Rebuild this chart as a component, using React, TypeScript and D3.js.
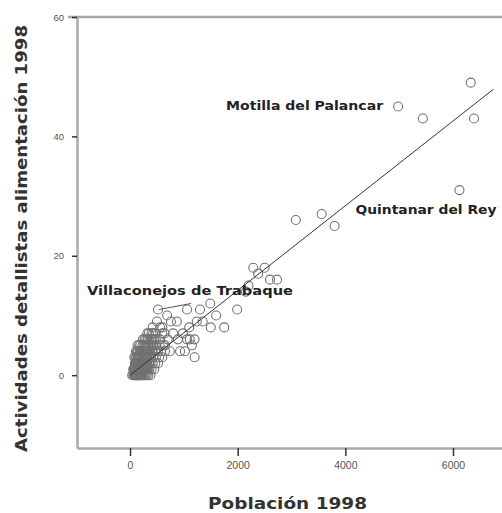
import React, { useRef, useEffect } from "react";
import * as d3 from "d3";

// [población, actividades]
const clusterPoints: [number, number][] = [
  [40, 0], [60, 0], [80, 0], [90, 0], [100, 0], [110, 0], [120, 0], [130, 0], [140, 0], [150, 0],
  [160, 0], [170, 0], [180, 0], [190, 0], [200, 0], [210, 0], [220, 0], [230, 0], [250, 0], [270, 0],
  [290, 0], [310, 0], [340, 0], [380, 0],
  [60, 1], [70, 1], [80, 1], [90, 1], [100, 1], [110, 1], [120, 1], [130, 1], [140, 1], [150, 1],
  [160, 1], [170, 1], [180, 1], [190, 1], [200, 1], [210, 1], [220, 1], [230, 1], [240, 1], [250, 1],
  [260, 1], [280, 1], [300, 1], [320, 1], [330, 1], [360, 1], [400, 1], [450, 1],
  [90, 2], [100, 2], [110, 2], [120, 2], [130, 2], [140, 2], [150, 2], [160, 2], [170, 2], [180, 2],
  [190, 2], [200, 2], [210, 2], [220, 2], [230, 2], [240, 2], [250, 2], [260, 2], [270, 2], [280, 2],
  [300, 2], [320, 2], [350, 2], [380, 2], [420, 2], [470, 2], [520, 2],
  [80, 3], [100, 3], [120, 3], [140, 3], [150, 3], [170, 3], [180, 3], [200, 3], [210, 3], [230, 3],
  [240, 3], [260, 3], [270, 3], [290, 3], [300, 3], [310, 3], [320, 3], [350, 3], [390, 3], [430, 3],
  [480, 3], [540, 3], [600, 3],
  [110, 4], [130, 4], [150, 4], [180, 4], [200, 4], [220, 4], [240, 4], [260, 4], [280, 4], [300, 4],
  [320, 4], [330, 4], [340, 4], [360, 4], [380, 4], [420, 4], [470, 4], [520, 4], [580, 4], [650, 4],
  [140, 5], [170, 5], [190, 5], [230, 5], [250, 5], [280, 5], [300, 5], [330, 5], [350, 5], [380, 5],
  [400, 5], [430, 5], [490, 5], [550, 5], [620, 5],
  [240, 6], [270, 6], [300, 6], [330, 6], [360, 6], [390, 6], [420, 6], [450, 6], [480, 6], [560, 6],
  [320, 7], [350, 7], [400, 7], [430, 7], [470, 7], [640, 7],
  [420, 8], [600, 8], [500, 9], [760, 9],
];

const midPoints: [number, number][] = [
  [690, 10], [1060, 11], [1300, 11], [1490, 12], [870, 9], [1240, 9], [1600, 10], [1350, 9],
  [560, 8], [800, 7], [1060, 6], [890, 6], [1110, 6], [740, 4], [930, 4], [1200, 3], [1020, 4],
  [1150, 5], [980, 7], [700, 6], [650, 5], [600, 7], [1100, 8], [1200, 6],
  [1990, 11], [1750, 8], [1500, 8],
  [2290, 18], [2500, 18], [2380, 17], [2600, 16], [2730, 16], [2200, 15], [2150, 14],
  [3080, 26], [3560, 27], [3800, 25],
  [5440, 43], [6330, 49], [6390, 43],
];

const labelledTowns = ["Motilla del Palancar", "Quintanar del Rey", "Villaconejos de Trabaque"];
const labelledPoints: [number, number][] = [[4980, 45], [6120, 31], [520, 11]];

const fitX = [0, 6750];
const fitY = [0, 47.9];

const xTicks = [0, 2000, 4000, 6000];
const yTicks = [0, 20, 40, 60];

const font = "'Liberation Sans', Arial, sans-serif";
const boldFont = "'DejaVu Sans', Verdana, sans-serif";

export default function App() {
  const svgRef = useRef<SVGSVGElement>(null);

  useEffect(() => {
    const svg = d3.select(svgRef.current);
    svg.selectAll("*").remove();

    const width = 502;
    const height = 513;
    const margin = { top: 17, right: 0, bottom: 65, left: 77 };

    const x = d3.scaleLinear().domain([-985, 6910]).range([margin.left, width - margin.right]);
    const y = d3.scaleLinear().domain([-12.2, 60]).range([height - margin.bottom, margin.top]);

    // frame top line
    svg.append("line")
      .attr("x1", margin.left - 9).attr("x2", width)
      .attr("y1", y(60)).attr("y2", y(60))
      .attr("stroke", "#a8a8a8").attr("stroke-width", 2.5);

    const styleAxis = (g: any, size: string) => {
      g.select(".domain").attr("stroke", "#a8a8a8").attr("stroke-width", 2.5);
      g.selectAll(".tick line").attr("stroke", "#333").attr("stroke-width", 1.5);
      g.selectAll(".tick text").attr("fill", "#555").style("font-size", size).style("font-family", font);
    };

    svg.append("g")
      .attr("transform", `translate(0,${height - margin.bottom})`)
      .call(d3.axisBottom(x).tickValues(xTicks).tickSize(8).tickSizeOuter(0).tickPadding(6).tickFormat(d3.format("d")))
      .call((g: any) => styleAxis(g, "10.5px"));

    svg.append("g")
      .attr("transform", `translate(${margin.left},0)`)
      .call(d3.axisLeft(y).tickValues(yTicks).tickSize(5).tickSizeOuter(0).tickPadding(8).tickFormat(d3.format("d")))
      .call((g: any) => styleAxis(g, "9.5px"));

    const all = [...clusterPoints, ...midPoints, ...labelledPoints];
    svg.append("g")
      .selectAll("circle")
      .data(all)
      .join("circle")
      .attr("cx", d => x(d[0]))
      .attr("cy", d => y(d[1]))
      .attr("r", 4.5)
      .attr("fill", "none")
      .attr("stroke", "#727272")
      .attr("stroke-width", 1.1);

    // fit line
    svg.append("line")
      .attr("x1", x(fitX[0])).attr("y1", y(fitY[0]))
      .attr("x2", x(fitX[1])).attr("y2", y(fitY[1]))
      .attr("stroke", "#333").attr("stroke-width", 1);

    // labels
    const labelCfg = [
      { dx: -15, dy: 3, anchor: "end", len: 157 },
      { dx: -104, dy: 24, anchor: "start", len: 141 },
      { dx: -71, dy: -15, anchor: "start", len: 206 },
    ];
    labelledTowns.forEach((name, i) => {
      const [px, py] = labelledPoints[i];
      const c = labelCfg[i];
      svg.append("text")
        .attr("x", x(px) + c.dx)
        .attr("y", y(py) + c.dy)
        .attr("text-anchor", c.anchor)
        .attr("textLength", c.len)
        .attr("lengthAdjust", "spacingAndGlyphs")
        .style("font-family", boldFont)
        .style("font-weight", "bold")
        .style("font-size", "12px")
        .attr("fill", "#222")
        .text(name);
    });
    // leader for Villaconejos
    const [vx, vy] = labelledPoints[2];
    svg.append("line")
      .attr("x1", x(vx) + 1).attr("y1", y(vy))
      .attr("x2", x(vx) + 33).attr("y2", y(vy) - 6)
      .attr("stroke", "#555").attr("stroke-width", 1);

    // axis titles
    svg.append("text")
      .attr("x", 287.5).attr("y", 509)
      .attr("text-anchor", "middle")
      .attr("textLength", 159)
      .attr("lengthAdjust", "spacingAndGlyphs")
      .style("font-family", boldFont).style("font-weight", "bold").style("font-size", "16.5px")
      .attr("fill", "#333")
      .text("Población 1998");

    svg.append("text")
      .attr("transform", `translate(27,238.5) rotate(-90)`)
      .attr("text-anchor", "middle")
      .attr("textLength", 427)
      .attr("lengthAdjust", "spacingAndGlyphs")
      .style("font-family", boldFont).style("font-weight", "bold").style("font-size", "16px")
      .attr("fill", "#333")
      .text("Actividades detallistas alimentación 1998");
  }, []);

  return (
    <div>
      <style>{`body{margin:0;background:#fff}`}</style>
      <svg ref={svgRef} width={502} height={513} style={{ display: "block" }}></svg>
    </div>
  );
}
